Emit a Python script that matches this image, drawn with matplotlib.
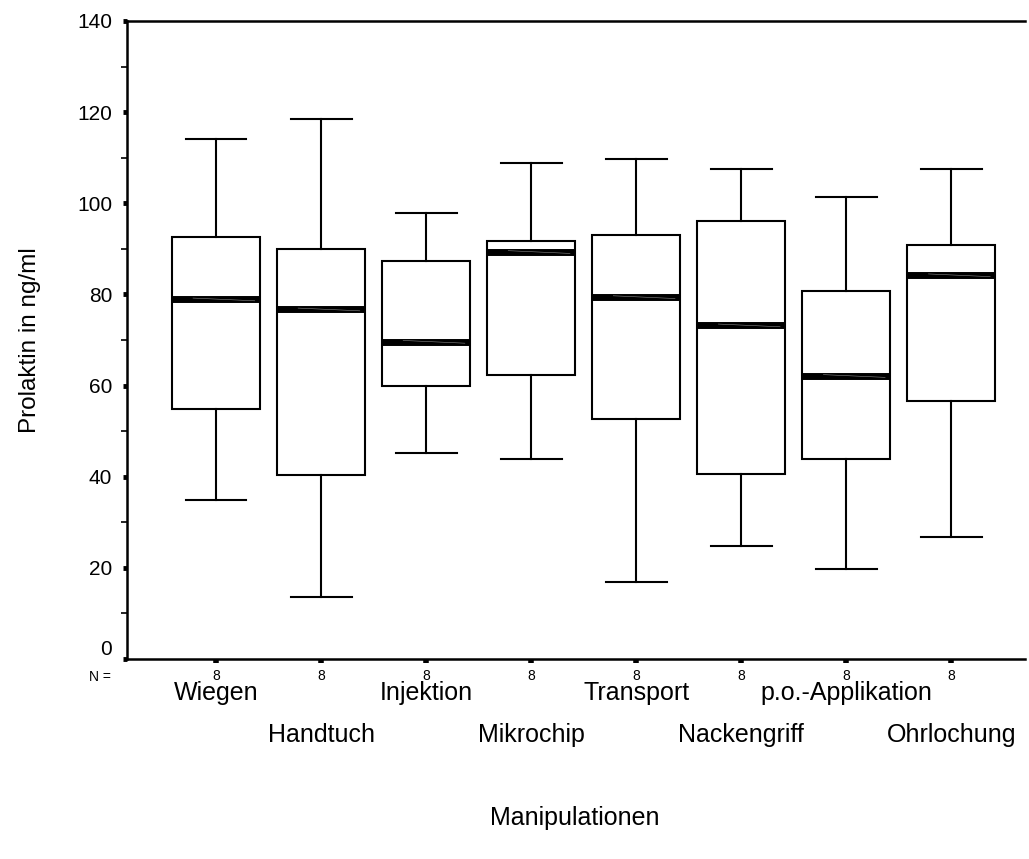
import matplotlib
matplotlib.use("Agg")
import matplotlib.pyplot as plt
from matplotlib.transforms import blended_transform_factory
from matplotlib.ticker import MultipleLocator

plt.rcParams['font.family'] = ['Liberation Sans', 'DejaVu Sans']

# Prolactin (ng/ml) per handling procedure, n = 8 each
categories = ["Wiegen", "Handtuch", "Injektion", "Mikrochip",
              "Transport", "Nackengriff", "p.o.-Applikation", "Ohrlochung"]
whisker_low = [35.0, 13.5, 45.1, 43.8, 17.0, 24.9, 19.7, 26.8]
q1 = [54.9, 40.4, 60.0, 62.3, 52.7, 40.7, 43.9, 56.6]
median = [78.9, 76.7, 69.6, 89.3, 79.4, 73.2, 62.1, 84.2]
q3 = [92.7, 89.9, 87.4, 91.7, 93.0, 96.1, 80.8, 90.8]
whisker_high = [114.1, 118.4, 97.8, 108.8, 109.7, 107.5, 101.3, 107.5]
n_obs = [8, 8, 8, 8, 8, 8, 8, 8]

W, H = 1029, 859
fig = plt.figure(figsize=(W / 100, H / 100), dpi=100)
ax = fig.add_axes([126.5 / W, 1 - 659 / H, (1025 - 126.5) / W, (659 - 21) / H])

stats = []
for i, name in enumerate(categories):
    stats.append(dict(label=name, whislo=whisker_low[i], q1=q1[i], med=median[i],
                      q3=q3[i], whishi=whisker_high[i], fliers=[]))

pos = list(range(len(categories)))
box_w = 0.8375
ax.bxp(stats, positions=pos, widths=box_w, showfliers=False, patch_artist=True,
       boxprops=dict(facecolor='white', edgecolor='black', linewidth=1.5),
       whiskerprops=dict(color='black', linewidth=1.5),
       capprops=dict(color='black', linewidth=1.5),
       medianprops=dict(color='black', linewidth=5.0, solid_capstyle='butt'),
       capwidths=0.58)

# faint streak inside the heavy median bars
for p, m in zip(pos, median):
    ax.plot([p - box_w / 2 + 0.2, p + box_w / 2 - 0.05], [m + 0.3, m - 0.3],
            color='#8c8c8c', lw=0.4, zorder=5)

ax.set_xlim(-0.852, 7.70)
ax.set_ylim(0, 140)

ax.spines['right'].set_visible(False)
for s in ['left', 'bottom', 'top']:
    ax.spines[s].set_linewidth(1.8)

ax.yaxis.set_major_locator(MultipleLocator(20))
ax.yaxis.set_minor_locator(MultipleLocator(10))
ax.tick_params(axis='y', which='major', direction='out', length=3.2, width=3.5,
               labelsize=15, pad=7)
ax.tick_params(axis='y', which='minor', direction='out', length=4.5, width=1.2)

ax.set_xticks(pos)
ax.set_xticklabels([str(n) for n in n_obs])
ax.tick_params(axis='x', which='major', direction='out', length=3.0, width=4.0,
               labelsize=10, pad=4)

fig.canvas.draw()
# lift the "0" label so it sits above the N row
ylabels = ax.get_yticklabels()
for lab in ylabels:
    if lab.get_text() == "0":
        lab.set_verticalalignment('bottom')

tr = blended_transform_factory(ax.transData, fig.transFigure)
for i, name in enumerate(categories):
    ypix = 693 if i % 2 == 0 else 735
    ax.text(i, 1 - ypix / H, name, transform=tr, ha='center', va='center',
            fontsize=18)

fig.text(100 / W, 1 - 677 / H, "N =", ha='center', va='center', fontsize=10)
fig.text(575 / W, 1 - 818 / H, "Manipulationen", ha='center', va='center', fontsize=18)
fig.text(30 / W, 1 - 340 / H, "Prolaktin in ng/ml", ha='center', va='center',
         rotation=90, fontsize=17.5)

fig.savefig("out.png", dpi=100)
